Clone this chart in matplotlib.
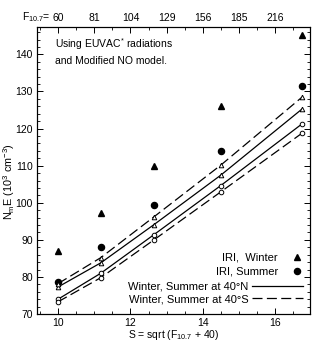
import numpy as np
import matplotlib
matplotlib.use("Agg")
import matplotlib.pyplot as plt
from matplotlib.lines import Line2D
from matplotlib.ticker import MultipleLocator

plt.rcParams['font.family'] = ['Liberation Sans', 'DejaVu Sans']
plt.rcParams['mathtext.fontset'] = 'custom'
plt.rcParams['mathtext.rm'] = 'Liberation Sans'
plt.rcParams['mathtext.it'] = 'Liberation Sans'

# ---- data ----
F107 = np.array([60, 85, 120, 170, 240])
S = np.sqrt(F107 + 40)

iri_winter = [87.0, 97.3, 110.0, 126.0, 145.2]
iri_summer = [78.6, 88.0, 99.5, 114.0, 131.4]
winter_40N = [77.3, 83.8, 94.1, 107.4, 125.2]
summer_40N = [74.0, 81.0, 91.4, 104.6, 121.2]
winter_40S = [78.2, 85.2, 96.2, 110.1, 128.4]
summer_40S = [73.3, 79.8, 90.0, 102.9, 118.7]

top_S = [10, 11, 12, 13, 14, 15, 16]
top_labels = ['60', '81', '104', '129', '156', '185', '216']

fig = plt.figure(figsize=(3.14, 3.41), dpi=100)
ax = fig.add_axes([0.118, 0.079, 0.869, 0.842])

ms_f = 4.4
ms_h = 3.3
dash = (0, (8, 3.5))

ax.plot(S, iri_winter, linestyle='none', marker='^', color='black', ms=ms_f)
ax.plot(S, iri_summer, linestyle='none', marker='o', color='black', ms=ms_f)
ax.plot(S, winter_40N, '-', color='black', lw=0.9, marker='^', mfc='white', mec='black', ms=ms_h, mew=0.7)
ax.plot(S, summer_40N, '-', color='black', lw=0.9, marker='o', mfc='white', mec='black', ms=ms_h, mew=0.7)
ax.plot(S, winter_40S, linestyle=dash, color='black', lw=0.9, marker='^', mfc='white', mec='black', ms=ms_h, mew=0.7)
ax.plot(S, summer_40S, linestyle=dash, color='black', lw=0.9, marker='o', mfc='white', mec='black', ms=ms_h, mew=0.7)

ax.set_xlim(9.42, 16.96)
ax.set_ylim(70, 147.4)

ax.xaxis.set_major_locator(MultipleLocator(2))
ax.xaxis.set_minor_locator(MultipleLocator(0.5))
ax.yaxis.set_major_locator(MultipleLocator(10))
ax.yaxis.set_minor_locator(MultipleLocator(2))
ax.tick_params(which='both', direction='in', right=True, labelsize=7.5)
ax.tick_params(axis='x', pad=2.5)
ax.tick_params(axis='y', pad=3)
ax.tick_params(which='major', length=4.5, width=0.7)
ax.tick_params(which='minor', length=2.5, width=0.6)
for sp in ax.spines.values():
    sp.set_linewidth(0.8)

ax.set_xlabel('S = sqrt (F$_{10.7}$ + 40)', fontsize=7.5, labelpad=0.5)
ax.set_ylabel('N$_m$E (10$^3$ cm$^{-3}$)', fontsize=7.8)
ax.yaxis.set_label_coords(-0.074, 0.463)

ax2 = ax.twiny()
ax2.set_xlim(ax.get_xlim())
ax2.set_xticks(top_S)
ax2.set_xticklabels(top_labels)
ax2.xaxis.set_minor_locator(MultipleLocator(0.5))
ax2.tick_params(which='both', direction='in', labelsize=7.5, pad=3)
ax2.tick_params(which='major', length=4.5, width=0.7)
ax2.tick_params(which='minor', length=2.5, width=0.6)
ax2.annotate('F$_{10.7}$=', xy=(top_S[0], 1.0), xycoords=('data', 'axes fraction'),
             xytext=(-5.5, 4.6), textcoords='offset points', ha='right', va='baseline', fontsize=7.5)

ax.text(0.066, 0.94, 'Using EUVAC$^{*}$ radiations', transform=ax.transAxes, fontsize=7.5, va='center')
ax.text(0.066, 0.88, 'and Modified NO model.', transform=ax.transAxes, fontsize=7.5, va='center')

h1 = [Line2D([], [], linestyle='none', marker='^', color='black', ms=ms_f),
      Line2D([], [], linestyle='none', marker='o', color='black', ms=ms_f)]
leg1 = ax.legend(h1, ['IRI,  Winter', 'IRI, Summer'], loc='lower right',
                 bbox_to_anchor=(0.972, 0.13), frameon=False, markerfirst=False,
                 fontsize=8, handlelength=1.0, handletextpad=1.2, labelspacing=0.35,
                 borderpad=0, borderaxespad=0)
ax.add_artist(leg1)
h2 = [Line2D([], [], linestyle='-', color='black', lw=0.9),
      Line2D([], [], linestyle=dash, color='black', lw=0.9)]
ax.legend(h2, ['Winter, Summer at 40\u00b0N', 'Winter, Summer at 40\u00b0S'], loc='lower right',
          bbox_to_anchor=(0.975, 0.035), frameon=False, markerfirst=False,
          fontsize=8, handlelength=4.6, handletextpad=0.3, labelspacing=0.2,
          borderpad=0, borderaxespad=0)

fig.savefig('out.png', dpi=100)
